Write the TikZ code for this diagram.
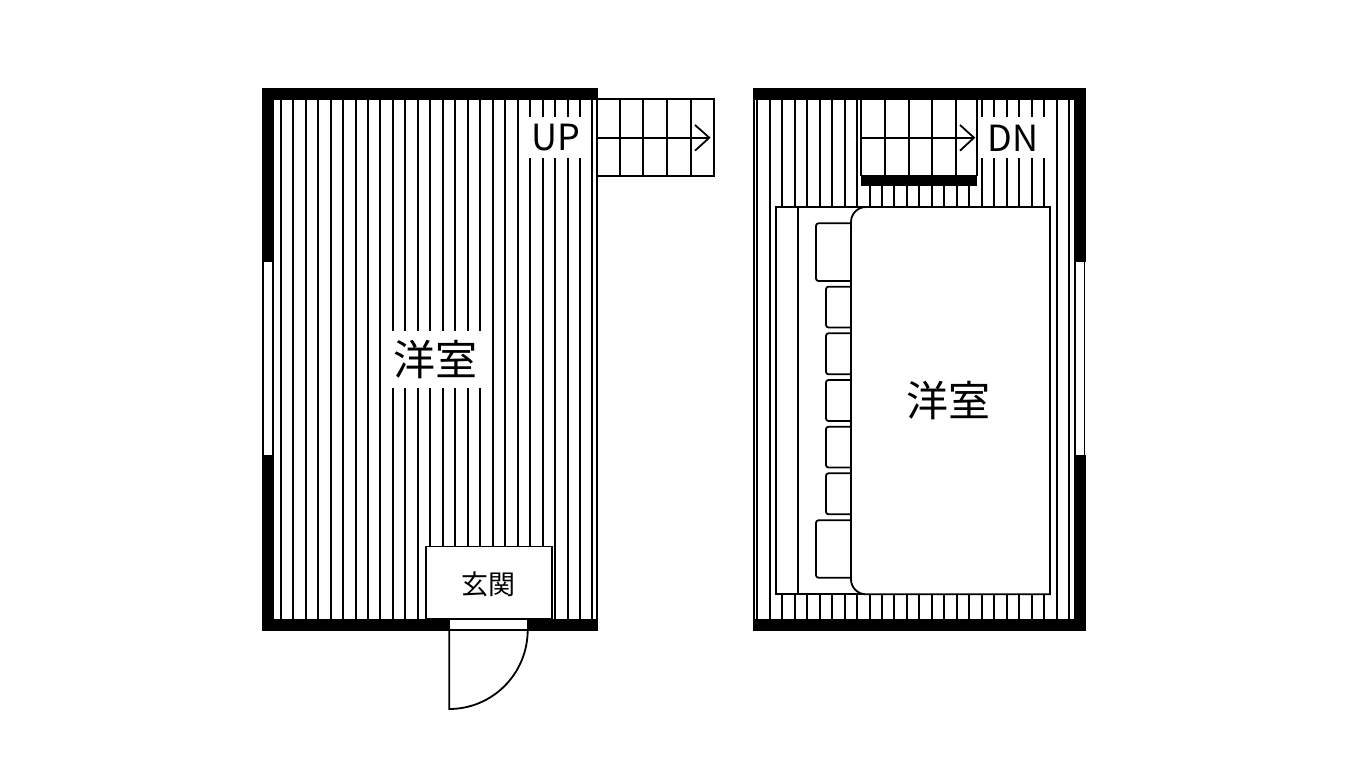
\documentclass[tikz,border=0pt]{standalone}
\usepackage{fontspec}
\setmainfont{Noto Sans CJK JP}
\begin{document}
\begin{tikzpicture}[x=1pt,y=-1pt,
  hatchline/.style={line width=2pt,black},
  thinline/.style={line width=1.8pt,black},
  wallfill/.style={fill=black,draw=none},
  maskbox/.style={fill=white,draw=none},
  whitebox/.style={fill=white,draw=black,line width=1.8pt},
  pillowbox/.style={fill=white,draw=black,line width=1.8pt,rounded corners=2.5pt},
  bigroom/.style={font=\fontsize{42}{42}\selectfont,inner sep=0pt},
  smallroom/.style={font=\fontsize{27}{27}\selectfont,inner sep=0pt},
  stairtext/.style={font=\fontsize{36}{36}\selectfont,inner sep=0pt}]
\useasboundingbox (0,0) rectangle (1350,760);
\fill[white] (0,0) rectangle (1350,760);
% ---------- left floor: hatching
\foreach \k in {0,...,25}{
  \pgfmathsetmacro{\xx}{280.7+12.47*\k}
  \draw[hatchline] (\xx,100) -- (\xx,620);
}
\draw[thinline] (597,100) -- (597,620);
% label masks
\fill[maskbox] (525,116.5) rectangle (586,158);
\fill[maskbox] (387,331) rectangle (486,388);
% entrance
\draw[whitebox] (426,546.5) rectangle (551.7,619);
% walls and door
\fill[wallfill] (262,88) rectangle (598,100);
\fill[wallfill] (262,88) rectangle (274,262);
\fill[wallfill] (262,455) rectangle (274,631);
\fill[wallfill] (262,619) rectangle (449.5,631);
\fill[wallfill] (527.7,619) rectangle (598,631);
\draw[whitebox] (263.3,261.5) rectangle (273,455.5);
\draw[whitebox] (449.5,619.3) rectangle (527.7,630);
\draw[thinline] (449.2,630) -- (449.2,709) .. controls (492.6,709) and (527.7,673.6) .. (527.7,630);
% stairs up
\draw[thinline] (597,99.3) -- (714,99.3) -- (714,176) -- (597,176);
\foreach \sx in {620,643.3,666.7,690.7}{
  \draw[thinline] (\sx,99.3) -- (\sx,176);
}
\draw[thinline] (597,137.7) -- (709.3,137.7);
\draw[thinline] (695,125) -- (709.3,137.7) -- (695,150.7);
% ---------- right floor: hatching
\foreach \k in {0,...,25}{
  \pgfmathsetmacro{\xx}{757.3+12.47*\k}
  \draw[hatchline] (\xx,100) -- (\xx,620);
}
\draw[thinline] (753.6,100) -- (753.6,620);
% label mask
\fill[maskbox] (978,116.5) rectangle (1049,158);
% stairs down
\fill[white] (861,99.3) rectangle (977,176);
\draw[thinline] (861,99.3) -- (861,176);
\draw[thinline] (976.7,99.3) -- (976.7,176);
\foreach \sx in {885,908.7,932.3,955.7}{
  \draw[thinline] (\sx,99.3) -- (\sx,176);
}
\fill[wallfill] (861,175) rectangle (977,185.7);
\draw[thinline] (861,137.7) -- (974,137.7);
\draw[thinline] (960,125) -- (974,137.7) -- (960,150.7);
% bed
\draw[whitebox] (776,207) rectangle (1050,594.3);
\draw[thinline] (798.3,207) -- (798.3,594.3);
\draw[pillowbox] (816,223.3) rectangle (856,281);
\draw[pillowbox] (826,286.7) rectangle (856,327.5);
\draw[pillowbox] (826,333.3) rectangle (856,374.3);
\draw[pillowbox] (826,380) rectangle (856,421);
\draw[pillowbox] (826,426.7) rectangle (856,467.5);
\draw[pillowbox] (826,473.3) rectangle (856,514.3);
\draw[pillowbox] (816,520.3) rectangle (856,577.7);
\draw[whitebox] (866,207) .. controls (857.7,207) and (851,213.7) .. (851,222)
  -- (851,579.3) .. controls (851,587.6) and (857.7,594.3) .. (866,594.3)
  -- (1050,594.3) -- (1050,207) -- cycle;
% walls
\fill[wallfill] (753,88) rectangle (1086,100);
\fill[wallfill] (753,619) rectangle (1086,631);
\fill[wallfill] (1074,88) rectangle (1086,262);
\fill[wallfill] (1074,455) rectangle (1086,631);
\draw[whitebox] (1074.8,261.5) rectangle (1084.5,455.5);
% texts
\node[stairtext] (uplabel) at (556,138) {UP};
\node[stairtext] (dnlabel) at (1013,138) {DN};
\node[bigroom] (roomone) at (435.5,359.5) {洋室};
\node[bigroom] (roomtwo) at (948,401) {洋室};
\node[smallroom] (entry) at (488.5,584) {玄関};
\end{tikzpicture}
\end{document}
